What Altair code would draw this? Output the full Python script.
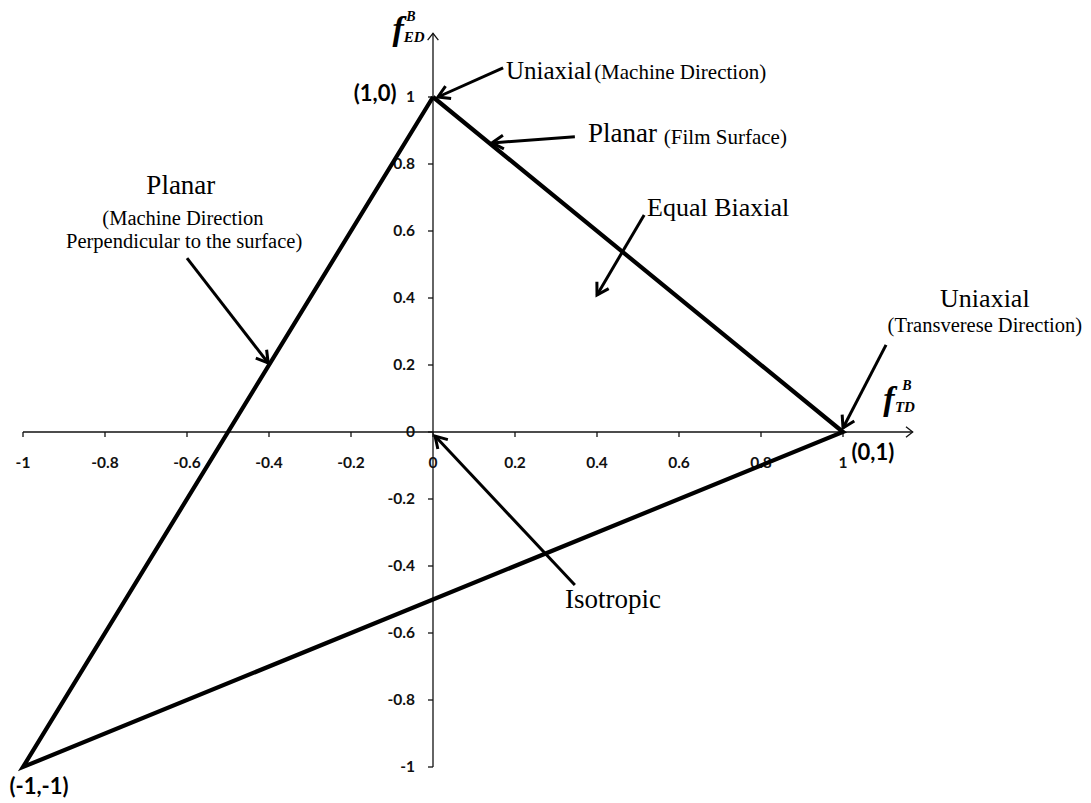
import math
import altair as alt
import pandas as pd

# ---------------- canvas / scale set-up ----------------
W, H = 1091, 803
X0PX, XUNIT = 433, 410      # pixel of x=0, pixels per unit
Y0PX, YUNIT = 432, 335      # pixel of y=0, pixels per unit
XDOM = [(0 - X0PX) / XUNIT, (W - X0PX) / XUNIT]
YDOM = [(Y0PX - H) / YUNIT, Y0PX / YUNIT]

# ---------------- data ----------------
tri_x = [0, 1, -1, 0]
tri_y = [1, 0, -1, 1]

tick_vals = [-1, -0.8, -0.6, -0.4, -0.2, 0, 0.2, 0.4, 0.6, 0.8, 1]
tick_labels = ["-1", "-0.8", "-0.6", "-0.4", "-0.2", "0", "0.2", "0.4", "0.6", "0.8", "1"]
axis_end_x = 1.17
axis_end_y = 1.19

vertex_labels = ["(1,0)", "(0,1)", "(-1,-1)"]
vertex_lx = [-0.141, 1.073, -0.961]
vertex_ly = [1.009, -0.063, -1.060]

# annotation arrows: tail (x0,y0) -> head (x1,y1)
arrow_x0 = [0.171, 0.346, 0.515, -0.600, 1.105, 0.346]
arrow_y0 = [1.087, 0.881, 0.648, 0.519, 0.260, -0.457]
arrow_x1 = [0.012, 0.144, 0.400, -0.402, 1.000, 0.005]
arrow_y1 = [1.000, 0.863, 0.409, 0.206, 0.012, -0.012]

left_texts = ["Uniaxial", "(Machine Direction)", "Planar", "(Film Surface)", "Equal Biaxial", "Isotropic"]
left_x = [0.178, 0.393, 0.378, 0.563, 0.522, 0.322]
left_y = [1.078, 1.072, 0.890, 0.878, 0.669, -0.501]
left_size = [25, 21, 27, 21, 26, 27]

center_texts = ["Planar", "(Machine Direction", "Perpendicular to the surface)",
                "Uniaxial", "(Transverese Direction)"]
center_x = [-0.615, -0.610, -0.607, 1.346, 1.346]
center_y = [0.734, 0.636, 0.567, 0.397, 0.316]
center_size = [27, 20.5, 20.5, 26, 20.5]

axname_texts = ["f", "B", "ED", "f", "B", "TD"]
axname_x = [-0.085, -0.054, -0.046, 1.112, 1.156, 1.151]
axname_y = [1.200, 1.239, 1.179, 0.096, 0.137, 0.075]
axname_size = [34, 14, 15, 34, 14, 15]

# ---------------- tables ----------------
xs = alt.Scale(domain=XDOM, nice=False, zero=False)
ys = alt.Scale(domain=YDOM, nice=False, zero=False)

def X(f="x"):
    return alt.X(f"{f}:Q", scale=xs, axis=None)

def Y(f="y"):
    return alt.Y(f"{f}:Q", scale=ys, axis=None)

tri_df = pd.DataFrame({"x": tri_x, "y": tri_y, "o": list(range(len(tri_x)))})

TICK_PX = 5
xt_df = pd.DataFrame({"x": tick_vals, "y": [0] * len(tick_vals),
                      "x2": tick_vals, "y2": [-TICK_PX / YUNIT] * len(tick_vals),
                      "label": tick_labels})
yt_df = pd.DataFrame({"x": [0] * len(tick_vals), "y": tick_vals,
                      "x2": [-TICK_PX / XUNIT] * len(tick_vals), "y2": tick_vals,
                      "label": tick_labels})

axes_df = pd.DataFrame({"x": [-1, 0], "y": [0, -1],
                        "x2": [axis_end_x, 0], "y2": [0, axis_end_y]})
axhead_df = pd.DataFrame({"x": [axis_end_x, 0], "y": [0, axis_end_y], "ang": [0, 270]})

arr_df = pd.DataFrame({"x": arrow_x0, "y": arrow_y0, "x2": arrow_x1, "y2": arrow_y1})
def _ang(r):
    dx = (r.x2 - r.x) * XUNIT
    dy = -(r.y2 - r.y) * YUNIT
    return math.degrees(math.atan2(dy, dx)) % 360
arr_df["ang"] = arr_df.apply(_ang, axis=1)

left_df = pd.DataFrame({"x": left_x, "y": left_y, "t": left_texts, "s": left_size})
center_df = pd.DataFrame({"x": center_x, "y": center_y, "t": center_texts, "s": center_size})
vert_df = pd.DataFrame({"x": vertex_lx, "y": vertex_ly, "t": vertex_labels})
axn_df = pd.DataFrame({"x": axname_x, "y": axname_y, "t": axname_texts, "s": axname_size})

# ---------------- layers ----------------
axes = alt.Chart(axes_df).mark_rule(color="#111", strokeWidth=1.3).encode(
    x=X(), y=Y(), x2="x2:Q", y2="y2:Q")
axheads = alt.Chart(axhead_df).mark_point(
    shape="M -1 -0.8 L 0 0 L -1 0.8", filled=False, color="#111",
    strokeWidth=1.3, size=180, opacity=1).encode(
    x=X(), y=Y(), angle=alt.Angle("ang:Q", scale=None))

xticks = alt.Chart(xt_df).mark_rule(color="#111", strokeWidth=1.3).encode(
    x=X(), y=Y(), x2="x2:Q", y2="y2:Q")
yticks = alt.Chart(yt_df).mark_rule(color="#111", strokeWidth=1.3).encode(
    x=X(), y=Y(), x2="x2:Q", y2="y2:Q")

xlabels = alt.Chart(xt_df).mark_text(
    font="Lato", fontWeight="bold", fontSize=15.5, align="center", baseline="middle",
    dy=31, color="#111").encode(x=X(), y=Y(), text="label:N")
ylabels = alt.Chart(yt_df).mark_text(
    font="Lato", fontWeight="bold", fontSize=15.5, align="right", baseline="middle",
    dx=-18, color="#111").encode(x=X(), y=Y(), text="label:N")

triangle = alt.Chart(tri_df).mark_line(
    color="black", strokeWidth=4.2, strokeJoin="miter").encode(
    x=X(), y=Y(), order="o:Q")

arrows = alt.Chart(arr_df).mark_rule(color="black", strokeWidth=3).encode(
    x=X(), y=Y(), x2="x2:Q", y2="y2:Q")
arrowheads = alt.Chart(arr_df).mark_point(
    shape="M -1 -0.6 L 0 0 L -1 0.6", filled=False, color="black",
    strokeWidth=3, size=520, opacity=1).encode(
    x=X("x2"), y=Y("y2"), angle=alt.Angle("ang:Q", scale=None))

left_txt = alt.Chart(left_df).mark_text(
    font="Liberation Serif", align="left", baseline="middle", color="black").encode(
    x=X(), y=Y(), text="t:N", size=alt.Size("s:Q", scale=None, legend=None))
center_txt = alt.Chart(center_df).mark_text(
    font="Liberation Serif", align="center", baseline="middle", color="black").encode(
    x=X(), y=Y(), text="t:N", size=alt.Size("s:Q", scale=None, legend=None))

vert_txt = alt.Chart(vert_df).mark_text(
    font="Lato", fontWeight="bold", fontSize=22, align="center", baseline="middle",
    color="black").encode(x=X(), y=Y(), text="t:N")

axn_txt = alt.Chart(axn_df).mark_text(
    font="Liberation Serif", fontWeight="bold", fontStyle="italic",
    align="center", baseline="middle", color="black").encode(
    x=X(), y=Y(), text="t:N", size=alt.Size("s:Q", scale=None, legend=None))

chart = alt.layer(
    axes, axheads, xticks, yticks, xlabels, ylabels, triangle,
    arrows, arrowheads, left_txt, center_txt, vert_txt, axn_txt
).properties(
    width=W, height=H, padding=0,
    autosize=alt.AutoSizeParams(type="none"),
    background="white",
).configure_view(stroke=None)

chart.save("out.html", embed_options={"renderer": "svg", "actions": False})
